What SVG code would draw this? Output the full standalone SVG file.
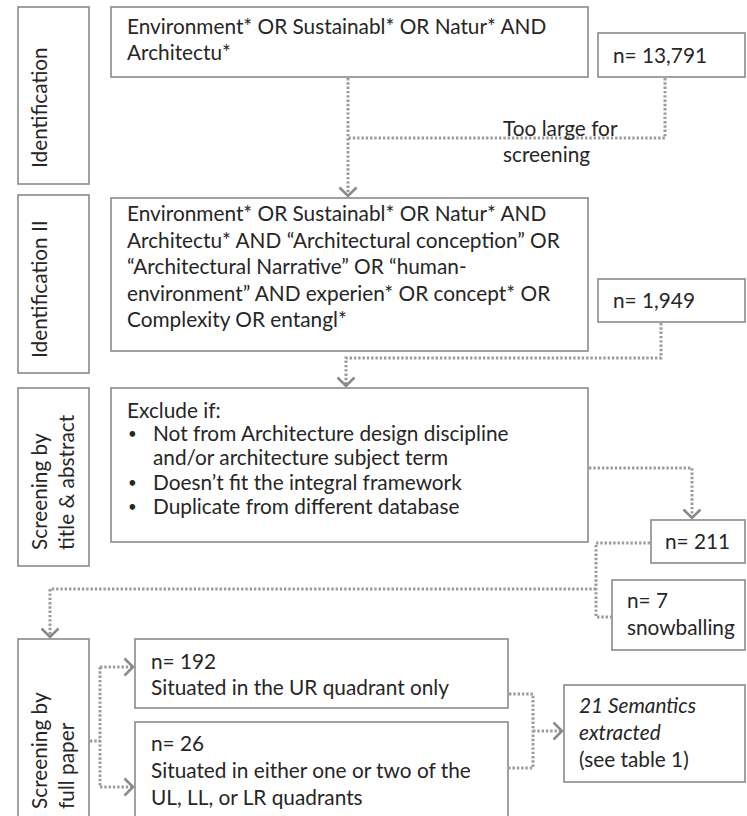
<svg xmlns="http://www.w3.org/2000/svg" width="747" height="816" viewBox="0 0 747 816">
<style>
.box{fill:#fff;stroke:#8a8a8a;stroke-width:1.6}
.t{font-family:Lato,"Liberation Sans",sans-serif;font-size:20.8px;fill:#262626}
.b{font-family:Lato,"Liberation Sans",sans-serif;font-size:15px;fill:#262626}
.i{font-style:italic}
.c{fill:none;stroke:#9c9c9c;stroke-width:3;stroke-dasharray:2.4 1.9}
</style>
<defs>
<marker id="ah" markerUnits="userSpaceOnUse" markerWidth="12" markerHeight="20" viewBox="0 0 12 20" refX="10" refY="10" orient="auto">
<path d="M1.5,1.5 L10,10 L1.5,18.5" fill="none" stroke="#8a8a8a" stroke-width="2.6"/>
</marker>
</defs>
<rect width="747" height="816" fill="#fff"/>
<g id="connectors">
<path class="c" d="M348,78 V196" marker-end="url(#ah)"/>
<path class="c" d="M665,78 V138 H348"/>
<path class="c" d="M661,323 V358 H346 V386" marker-end="url(#ah)"/>
<path class="c" d="M589,468 H692 V518" marker-end="url(#ah)"/>
<path class="c" d="M650,543 H596 V617 H611"/>
<path class="c" d="M596,589 H50 V637" marker-end="url(#ah)"/>
<path class="c" d="M90,741 H100"/>
<path class="c" d="M100,667 V787"/>
<path class="c" d="M100,667 H133" marker-end="url(#ah)"/>
<path class="c" d="M100,787 H133" marker-end="url(#ah)"/>
<path class="c" d="M509,694 H533 V768 H509"/>
<path class="c" d="M533,731 H562" marker-end="url(#ah)"/>
</g>
<g id="side-identification">
<rect class="box" x="18" y="7" width="71" height="177"/>
<text class="t" transform="translate(47,168) rotate(-90)">Identification</text>
</g>
<g id="side-identification-2">
<rect class="box" x="18" y="195" width="71" height="178"/>
<text class="t" transform="translate(47,358) rotate(-90)">Identification II</text>
</g>
<g id="side-screening-abstract">
<rect class="box" x="18" y="388" width="71" height="178"/>
<text class="t" transform="translate(47,550) rotate(-90)">Screening by</text>
<text class="t" transform="translate(74,550) rotate(-90)">title &amp; abstract</text>
</g>
<g id="side-screening-full">
<rect class="box" x="18" y="639" width="71" height="190"/>
<text class="t" transform="translate(47,809) rotate(-90)">Screening by</text>
<text class="t" transform="translate(74,809) rotate(-90)">full paper</text>
</g>
<g id="query1">
<rect class="box" x="111" y="7" width="477" height="70"/>
<text class="t" x="127" y="34">Environment* OR Sustainabl* OR Natur* AND</text>
<text class="t" x="127" y="60">Architectu*</text>
</g>
<g id="n13791">
<rect class="box" x="598" y="33" width="147" height="44"/>
<text class="t" x="613" y="63">n= 13,791</text>
</g>
<g id="too-large">
<text class="t" x="503" y="136">Too large for</text>
<text class="t" x="503" y="162">screening</text>
</g>
<g id="query2">
<rect class="box" x="111" y="198" width="477" height="153"/>
<text class="t" x="127" y="221">Environment* OR Sustainabl* OR Natur* AND</text>
<text class="t" x="127" y="248">Architectu* AND “Architectural conception” OR</text>
<text class="t" x="127" y="274">“Architectural Narrative” OR “human-</text>
<text class="t" x="127" y="301">environment” AND experien* OR concept* OR</text>
<text class="t" x="127" y="327">Complexity OR entangl*</text>
</g>
<g id="n1949">
<rect class="box" x="598" y="279" width="147" height="43"/>
<text class="t" x="613" y="308">n= 1,949</text>
</g>
<g id="exclude">
<rect class="box" x="111" y="388" width="477" height="154"/>
<text class="t" x="127" y="418">Exclude if:</text>
<text class="b" x="128" y="439">•</text>
<text class="t" x="153" y="441">Not from Architecture design discipline</text>
<text class="t" x="153" y="465">and/or architecture subject term</text>
<text class="b" x="128" y="488">•</text>
<text class="t" x="153" y="490">Doesn’t fit the integral framework</text>
<text class="b" x="128" y="512">•</text>
<text class="t" x="153" y="514">Duplicate from different database</text>
</g>
<g id="n211">
<rect class="box" x="651" y="520" width="94" height="43"/>
<text class="t" x="665" y="549">n= 211</text>
</g>
<g id="n7">
<rect class="box" x="612" y="580" width="133" height="70"/>
<text class="t" x="627" y="608">n= 7</text>
<text class="t" x="627" y="635">snowballing</text>
</g>
<g id="n192">
<rect class="box" x="135" y="639" width="373" height="69"/>
<text class="t" x="151" y="669">n= 192</text>
<text class="t" x="151" y="695">Situated in the UR quadrant only</text>
</g>
<g id="n26">
<rect class="box" x="135" y="722" width="373" height="110"/>
<text class="t" x="151" y="751">n= 26</text>
<text class="t" x="151" y="778">Situated in either one or two of the</text>
<text class="t" x="151" y="805">UL, LL, or LR quadrants</text>
</g>
<g id="semantics">
<rect class="box" x="564" y="685" width="181" height="97"/>
<text class="t i" x="579" y="713">21 Semantics</text>
<text class="t i" x="579" y="740">extracted</text>
<text class="t" x="579" y="767">(see table 1)</text>
</g>
</svg>
